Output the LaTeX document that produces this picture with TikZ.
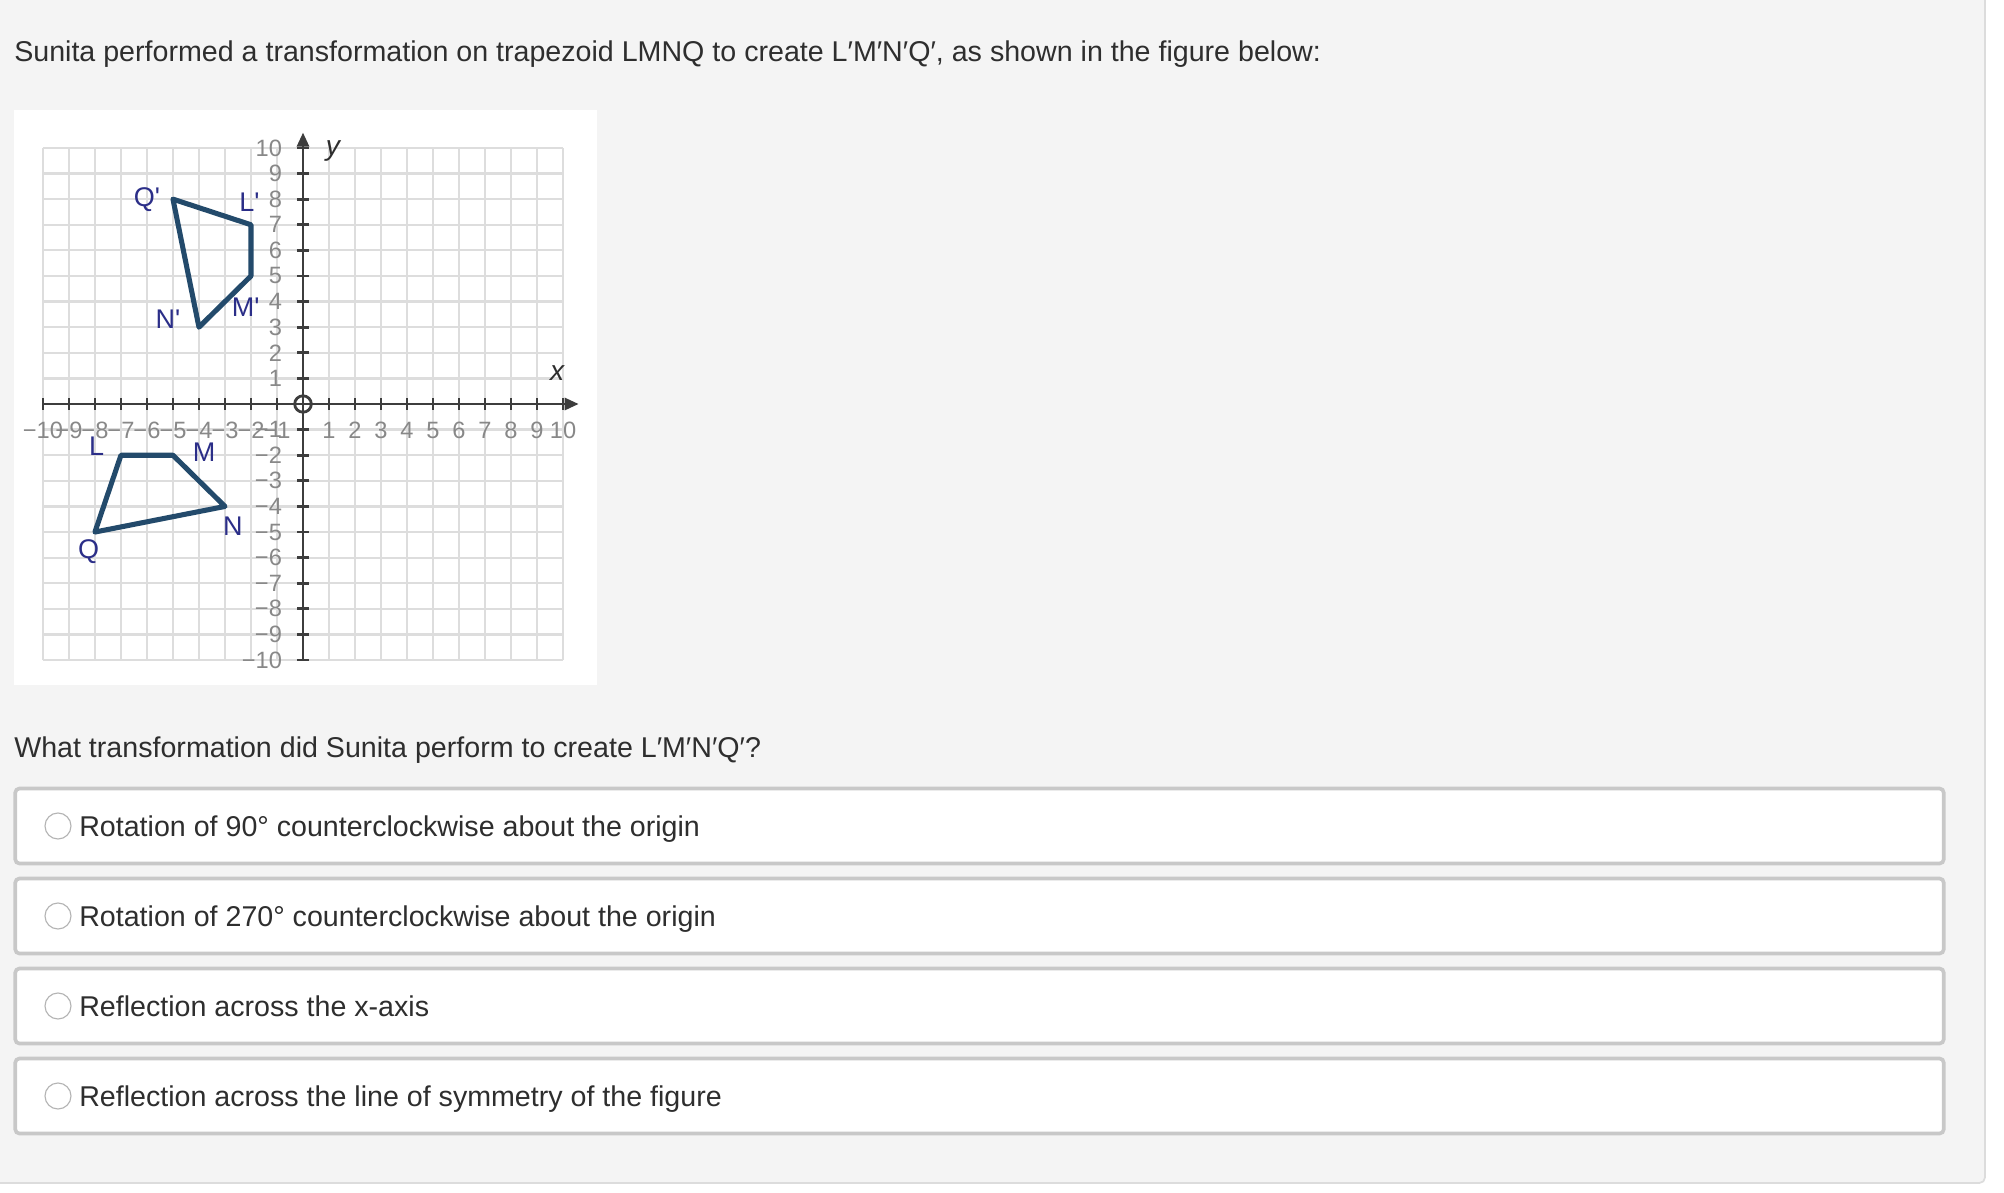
\documentclass[tikz,border=0pt]{standalone}
\usepackage{fontspec}
\setmainfont{Liberation Sans}
\usetikzlibrary{arrows.meta,positioning}

\definecolor{pagebg}{HTML}{F4F4F4}
\definecolor{edgegray}{HTML}{DCDCDC}
\definecolor{boxgray}{HTML}{C8C8C8}
\definecolor{textgray}{HTML}{2E2E2E}
\definecolor{gridgray}{HTML}{DDDDDD}
\definecolor{axisgray}{HTML}{3D3D3D}
\definecolor{numgray}{HTML}{888888}
\definecolor{trapblue}{HTML}{234A6B}
\definecolor{lblnavy}{HTML}{2B2E88}
\definecolor{radiogray}{HTML}{B4B4B4}

% minus sign for negative axis numbers
\newcommand{\axnum}[1]{\ifnum#1<0 −\number\numexpr-#1\relax\else#1\fi}

\begin{document}
\begin{tikzpicture}[x=0.025cm,y=-0.025cm,
    bodytext/.style={text=textgray,font=\fontsize{20.35}{24}\selectfont,inner sep=0,anchor=base west},
    optbox/.style={draw=boxgray,line width=2.6pt,fill=white,rounded corners=3pt,minimum width=48.2cm,minimum height=1.875cm,inner sep=0},
    radio/.style={circle,draw=radiogray,line width=0.8pt,fill=white,minimum size=0.65cm,inner sep=0},
    gridline/.style={draw=gridgray,line width=1.6pt},
    axisline/.style={draw=axisgray,line width=2pt},
    numlbl/.style={text=numgray,font=\fontsize{16.8}{19}\selectfont,inner sep=0},
    trap/.style={draw=trapblue,line width=3.6pt,line join=round},
    ptlbl/.style={text=lblnavy,font=\fontsize{19.2}{22}\selectfont,inner sep=0},
    axlbl/.style={text=textgray,font=\fontsize{20}{22}\selectfont\itshape,inner sep=0}]

\useasboundingbox (0,0) rectangle (2004,1192);
\fill[white] (0,0) rectangle (2004,1192);
\draw[draw=edgegray,line width=1.2pt,fill=pagebg,rounded corners=4pt] (-20,-20) rectangle (1985,1183);

\node[bodytext] (title) at (14,61) {Sunita performed a transformation on trapezoid LMNQ to create L′M′N′Q′, as shown in the figure below:};

% graph panel
\fill[white] (14,110) rectangle (597,685);
\begin{scope}[shift={(303,404)},x=0.65cm,y=0.64cm]
  \foreach \g in {-10,...,10} {
    \draw[gridline] (\g,-10) -- (\g,10);
    \draw[gridline] (-10,\g) -- (10,\g);
  }
  \draw[axisline,-{Triangle[length=0.35cm,width=0.3cm]}] (-10,0) -- (10.6,0);
  \draw[axisline,-{Triangle[length=0.35cm,width=0.3cm]}] (0,-10) -- (0,10.6);
  \draw[axisline] (0,0) circle[radius=0.32];
  \foreach \k in {-10,...,-1,1,2,...,10} {
    \draw[axisline] (\k,-0.23) -- (\k,0.23);
    \draw[axisline] (-0.23,\k) -- (0.23,\k);
    \node[numlbl] at (\k,-1.02) {\axnum{\k}};
    \node[numlbl,anchor=east] at (-0.8,\k) {\axnum{\k}};
  }
  \node[axlbl] (xlbl) at (9.77,1.2) {x};
  \node[axlbl] (ylbl) at (1.15,9.9) {y};

  % trapezoid LMNQ
  \coordinate (L) at (-7,-2);
  \coordinate (M) at (-5,-2);
  \coordinate (N) at (-3,-4);
  \coordinate (Q) at (-8,-5);
  \draw[trap] (L) -- (M) -- (N) -- (Q) -- cycle;
  % image L'M'N'Q'
  \coordinate (Lp) at (-2,7);
  \coordinate (Mp) at (-2,5);
  \coordinate (Np) at (-4,3);
  \coordinate (Qp) at (-5,8);
  \draw[trap] (Lp) -- (Mp) -- (Np) -- (Qp) -- cycle;

  \node[ptlbl] (lblL) at (-7.94,-1.65) {L};
  \node[ptlbl] (lblM) at (-3.8,-1.87) {M};
  \node[ptlbl] (lblN) at (-2.7,-4.76) {N};
  \node[ptlbl] (lblQ) at (-8.24,-5.77) {Q};
  \node[ptlbl] (lblQp) at (-6.0,7.97) {Q\textquotesingle};
  \node[ptlbl] (lblLp) at (-2.06,7.9) {L\textquotesingle};
  \node[ptlbl] (lblNp) at (-5.19,3.3) {N\textquotesingle};
  \node[ptlbl] (lblMp) at (-2.2,3.78) {M\textquotesingle};
\end{scope}

\node[bodytext] (question) at (14,757) {What transformation did Sunita perform to create L′M′N′Q′?};

\foreach \i/\yy/\txt in {1/826/{Rotation of 90° counterclockwise about the origin},
                         2/916/{Rotation of 270° counterclockwise about the origin},
                         3/1006/{Reflection across the x-axis},
                         4/1096/{Reflection across the line of symmetry of the figure}} {
  \node[optbox] (opt\i) at (979.5,\yy) {};
  \node[radio] (radio\i) at (58,\yy) {};
  \node[bodytext] (ans\i) at (79,\yy+10) {\txt};
}
\end{tikzpicture}
\end{document}
